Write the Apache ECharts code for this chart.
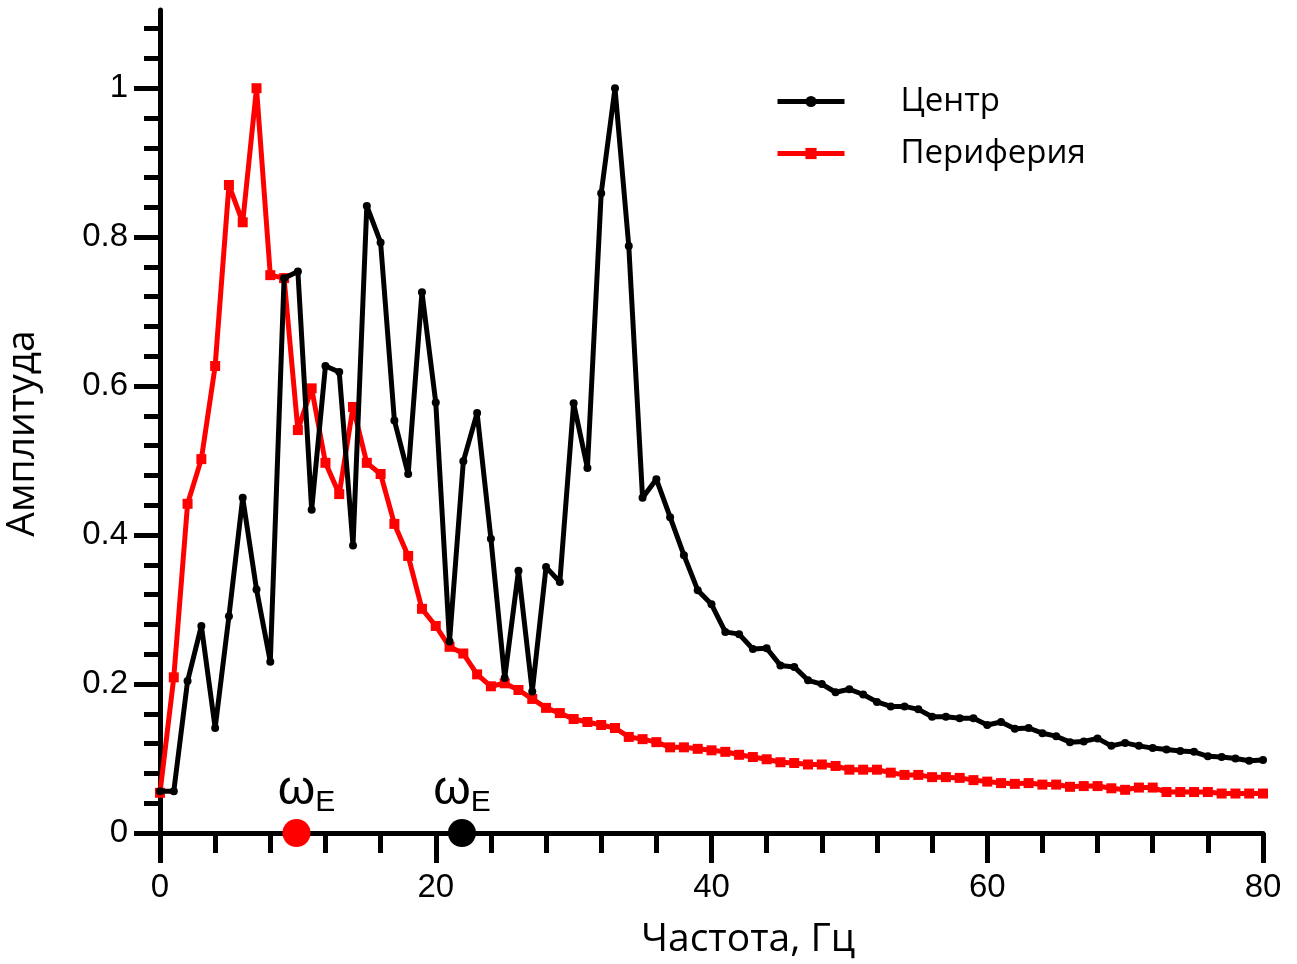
<!DOCTYPE html>
<html>
<head>
<meta charset="utf-8">
<script src="https://cdn.jsdelivr.net/npm/echarts@6/dist/echarts.min.js"></script>
<style>
html,body{margin:0;padding:0;background:#fff;}
#chart{width:1297px;height:964px;}
</style>
</head>
<body>
<div id="chart"></div>
<script>
// Frequencies (Hz)
const freq = [0,1,2,3,4,5,6,7,8,9,10,11,12,13,14,15,16,17,18,19,20,21,22,23,24,25,26,27,28,29,30,31,32,33,34,35,36,37,38,39,40,41,42,43,44,45,46,47,48,49,50,51,52,53,54,55,56,57,58,59,60,61,62,63,64,65,66,67,68,69,70,71,72,73,74,75,76,77,78,79,80];
// Центр (black)
const center = [0.056,0.056,0.204,0.278,0.141,0.291,0.450,0.327,0.230,0.745,0.754,0.434,0.627,0.619,0.386,0.842,0.793,0.554,0.482,0.726,0.578,0.257,0.499,0.564,0.395,0.208,0.352,0.190,0.357,0.337,0.577,0.490,0.859,1.000,0.788,0.450,0.475,0.424,0.373,0.326,0.307,0.270,0.267,0.247,0.248,0.225,0.223,0.205,0.200,0.189,0.193,0.186,0.176,0.170,0.170,0.166,0.156,0.156,0.154,0.154,0.145,0.149,0.140,0.141,0.134,0.130,0.122,0.123,0.127,0.117,0.121,0.117,0.114,0.112,0.110,0.109,0.103,0.102,0.100,0.097,0.098];
// Периферия (red)
const periphery = [0.054,0.209,0.442,0.502,0.627,0.870,0.820,1.000,0.749,0.745,0.541,0.597,0.497,0.455,0.572,0.497,0.482,0.415,0.372,0.301,0.278,0.250,0.241,0.213,0.197,0.201,0.192,0.180,0.168,0.161,0.153,0.149,0.145,0.141,0.129,0.126,0.122,0.115,0.115,0.113,0.111,0.109,0.105,0.102,0.099,0.095,0.094,0.092,0.092,0.090,0.085,0.085,0.085,0.081,0.078,0.078,0.075,0.075,0.074,0.071,0.069,0.067,0.066,0.067,0.065,0.065,0.062,0.063,0.063,0.060,0.058,0.061,0.061,0.055,0.055,0.055,0.055,0.053,0.053,0.053,0.053];
// ω_E markers (frequency positions)
const omegaFreq = [9.9, 21.9];
const omegaNames = ['Периферия', 'Центр'];
// Tick values
const yMajorTicks = [0, 0.2, 0.4, 0.6, 0.8, 1];
const yMinorTicks = [0.04,0.08,0.12,0.16,0.24,0.28,0.32,0.36,0.44,0.48,0.52,0.56,0.64,0.68,0.72,0.76,0.84,0.88,0.92,0.96,1.04,1.08];
const xLabels = [0, 20, 40, 60, 80];

const chart = echarts.init(document.getElementById('chart'), null, {renderer: 'canvas'});
const numFont = '"Liberation Sans", Arial, sans-serif';
const txtFont = '"Open Sans", "Noto Sans", sans-serif';

const option = {
  animation: false,
  backgroundColor: '#ffffff',
  grid: {left: 160, right: 34, top: 10, bottom: 131, containLabel: false, outerBoundsMode: 'none'},
  legend: {
    orient: 'vertical',
    left: 770,
    top: 80,
    itemWidth: 67,
    itemHeight: 14,
    itemGap: 19,
    data: ['Центр', 'Периферия'],
    lineStyle: {width: 5},
    textStyle: {fontFamily: txtFont, fontSize: 33, color: '#000', lineHeight: 32, padding: [0, 0, 0, 51]}
  },
  xAxis: {
    type: 'value',
    min: 0, max: 80, interval: 20,
    name: 'Частота, Гц',
    nameLocation: 'middle',
    nameGap: 87,
    nameTextStyle: {fontFamily: txtFont, fontSize: 39, color: '#000', padding: [0, 0, 0, 73]},
    axisLine: {show: true, onZero: false, lineStyle: {color: '#000', width: 5}},
    axisTick: {show: true, length: 30, lineStyle: {color: '#000', width: 5}},
    minorTick: {show: true, splitNumber: 5, length: 20, lineStyle: {color: '#000', width: 5}},
    splitLine: {show: false},
    minorSplitLine: {show: false},
    axisLabel: {
      margin: 38, fontFamily: numFont, fontSize: 33, color: '#000',
      customValues: xLabels
    }
  },
  yAxis: [{
    type: 'value',
    min: 0, max: 1.105,
    position: 'left',
    name: 'Амплитуда',
    nameLocation: 'middle',
    nameGap: 118,
    nameRotate: 90,
    nameTextStyle: {fontFamily: txtFont, fontSize: 39, color: '#000', padding: [0, 24, 0, 0]},
    axisLine: {show: true, onZero: false, lineStyle: {color: '#000', width: 5}},
    axisTick: {show: true, length: 26, customValues: yMajorTicks, lineStyle: {color: '#000', width: 5}},
    axisLabel: {
      margin: 32, fontFamily: numFont, fontSize: 33, color: '#000',
      customValues: yMajorTicks,
      formatter: v => String(+v.toFixed(2))
    },
    splitLine: {show: false}
  }, {
    type: 'value',
    min: 0, max: 1.105,
    position: 'left',
    offset: 0,
    axisLine: {show: false},
    axisTick: {show: true, length: 16, customValues: yMinorTicks, lineStyle: {color: '#000', width: 5}},
    axisLabel: {show: false, customValues: yMinorTicks},
    splitLine: {show: false}
  }],
  series: [{
    name: 'Периферия',
    type: 'line',
    data: freq.map((f, i) => [f, periphery[i]]),
    symbol: 'rect',
    symbolSize: 10,
    showAllSymbol: true,
    color: '#ff0000',
    lineStyle: {color: '#ff0000', width: 5},
    itemStyle: {color: '#ff0000'},
    z: 2
  }, {
    name: 'Центр',
    type: 'line',
    data: freq.map((f, i) => [f, center[i]]),
    symbol: 'circle',
    symbolSize: 8,
    showAllSymbol: true,
    color: '#000000',
    lineStyle: {color: '#000000', width: 5},
    itemStyle: {color: '#000000'},
    z: 3
  }, {
    name: 'omega',
    type: 'scatter',
    symbol: 'circle',
    symbolSize: 28,
    z: 5,
    itemStyle: {opacity: 1},
    data: omegaFreq.map((f, i) => ({
      value: [f, 0],
      itemStyle: {color: omegaNames[i] === 'Центр' ? '#000000' : '#ff0000', opacity: 1},
      label: {offset: omegaNames[i] === 'Центр' ? [0, 0] : [10, 0]}
    })),
    label: {
      show: true,
      position: 'top',
      distance: 1,
      color: '#000',
      opacity: 1,
      formatter: '{w|ω}{e|E}',
      rich: {
        w: {fontFamily: numFont, fontSize: 48, color: '#000', verticalAlign: 'bottom', padding: [0, 0, 3, 0]},
        e: {fontFamily: numFont, fontSize: 30, color: '#000', verticalAlign: 'bottom'}
      }
    },
    emphasis: {disabled: true}
  }]
};
chart.setOption(option);
</script>
</body>
</html>
